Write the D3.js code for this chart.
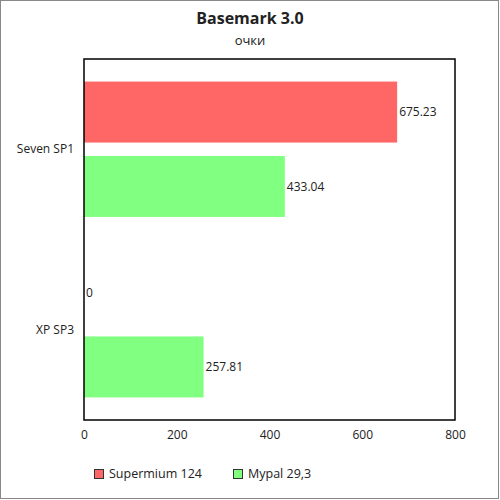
<!DOCTYPE html>
<html>
<head>
<meta charset="utf-8">
<script src="https://cdn.jsdelivr.net/npm/d3@7"></script>
<style>
  body { margin: 0; background: #fff; }
  svg text { font-family: "Open Sans", sans-serif; fill: #222; }
</style>
</head>
<body>
<div id="chart"></div>
<script>
// chart data
const categories = ["Seven SP1", "XP SP3"];
const seriesNames = ["Supermium 124", "Mypal 29,3"];
const seriesColors = ["#ff6666", "#80ff80"];
const supermium = [675.23, 0];
const mypal = [433.04, 257.81];
const xTicks = [0, 200, 400, 600, 800];

const width = 500, height = 500;
const margin = { top: 59, right: 45, bottom: 80, left: 84 };
const plotW = width - margin.left - margin.right;
const plotH = height - margin.top - margin.bottom;

const svg = d3.select("#chart").append("svg")
  .attr("width", width)
  .attr("height", height);

// outer frame
svg.append("rect")
  .attr("x", 0.5).attr("y", 0.5)
  .attr("width", width - 2).attr("height", height - 2)
  .attr("fill", "#fff")
  .attr("stroke", "#888");

svg.append("text")
  .attr("x", width / 2).attr("y", 24)
  .attr("text-anchor", "middle")
  .style("font-size", "16px")
  .style("font-weight", "bold")
  .text("Basemark 3.0");

svg.append("text")
  .attr("x", width / 2).attr("y", 45)
  .attr("text-anchor", "middle")
  .style("font-size", "13px")
  .text("очки");

const g = svg.append("g").attr("transform", `translate(${margin.left},${margin.top})`);

const x = d3.scaleLinear().domain([0, 800]).range([0, plotW]);
const y0 = d3.scaleBand().domain(categories).range([0, plotH]).paddingInner(0.25).paddingOuter(0.125);
const y1 = d3.scaleBand().domain(seriesNames).range([0, y0.bandwidth()]).paddingInner(0.18);

const rows = categories.map((c, i) => ({
  cat: c,
  vals: [supermium[i], mypal[i]]
}));

const groups = g.selectAll(".cat").data(rows).enter().append("g")
  .attr("class", "cat")
  .attr("transform", d => `translate(0,${y0(d.cat)})`);

groups.selectAll("rect")
  .data(d => d.vals.map((v, j) => ({ name: seriesNames[j], v: v, color: seriesColors[j] })))
  .enter().append("rect")
  .attr("x", 0)
  .attr("y", d => y1(d.name))
  .attr("width", d => x(d.v))
  .attr("height", y1.bandwidth())
  .attr("fill", d => d.color);

groups.selectAll(".val")
  .data(d => d.vals.map((v, j) => ({ name: seriesNames[j], v: v })))
  .enter().append("text")
  .attr("class", "val")
  .attr("x", d => x(d.v) + 2)
  .attr("y", d => y1(d.name) + y1.bandwidth() / 2)
  .attr("dy", "0.35em")
  .style("font-size", "12px")
  .text(d => d.v === 0 ? "0" : d.v.toFixed(2));

// frame of plot area
g.append("rect")
  .attr("x", 0).attr("y", 0)
  .attr("width", plotW).attr("height", plotH)
  .attr("fill", "none")
  .attr("stroke", "#000")
  .attr("stroke-width", 1.5);

// category labels
const yAxis = g.append("g")
  .call(d3.axisLeft(y0).tickSize(0).tickPadding(10));
yAxis.select(".domain").remove();
yAxis.selectAll("text").style("font-size", "12px").attr("fill", "#222");

const xAxis = g.append("g")
  .attr("transform", `translate(0,${plotH})`)
  .call(d3.axisBottom(x).tickValues(xTicks).tickSize(0).tickPadding(10));
xAxis.select(".domain").remove();
xAxis.selectAll("text").style("font-size", "12px").attr("fill", "#222");

// legend
const legend = svg.append("g").attr("transform", "translate(94,469)");
const item = legend.selectAll("g").data(seriesNames).enter().append("g")
  .attr("transform", (d, i) => `translate(${i * 139},0)`);
item.append("rect")
  .attr("x", 0.5).attr("y", 0.5)
  .attr("width", 9).attr("height", 9)
  .attr("fill", (d, i) => seriesColors[i])
  .attr("stroke", "#333");
item.append("text")
  .attr("x", 15).attr("y", 5)
  .attr("dy", "0.35em")
  .style("font-size", "12.5px")
  .text(d => d);
</script>
</body>
</html>
